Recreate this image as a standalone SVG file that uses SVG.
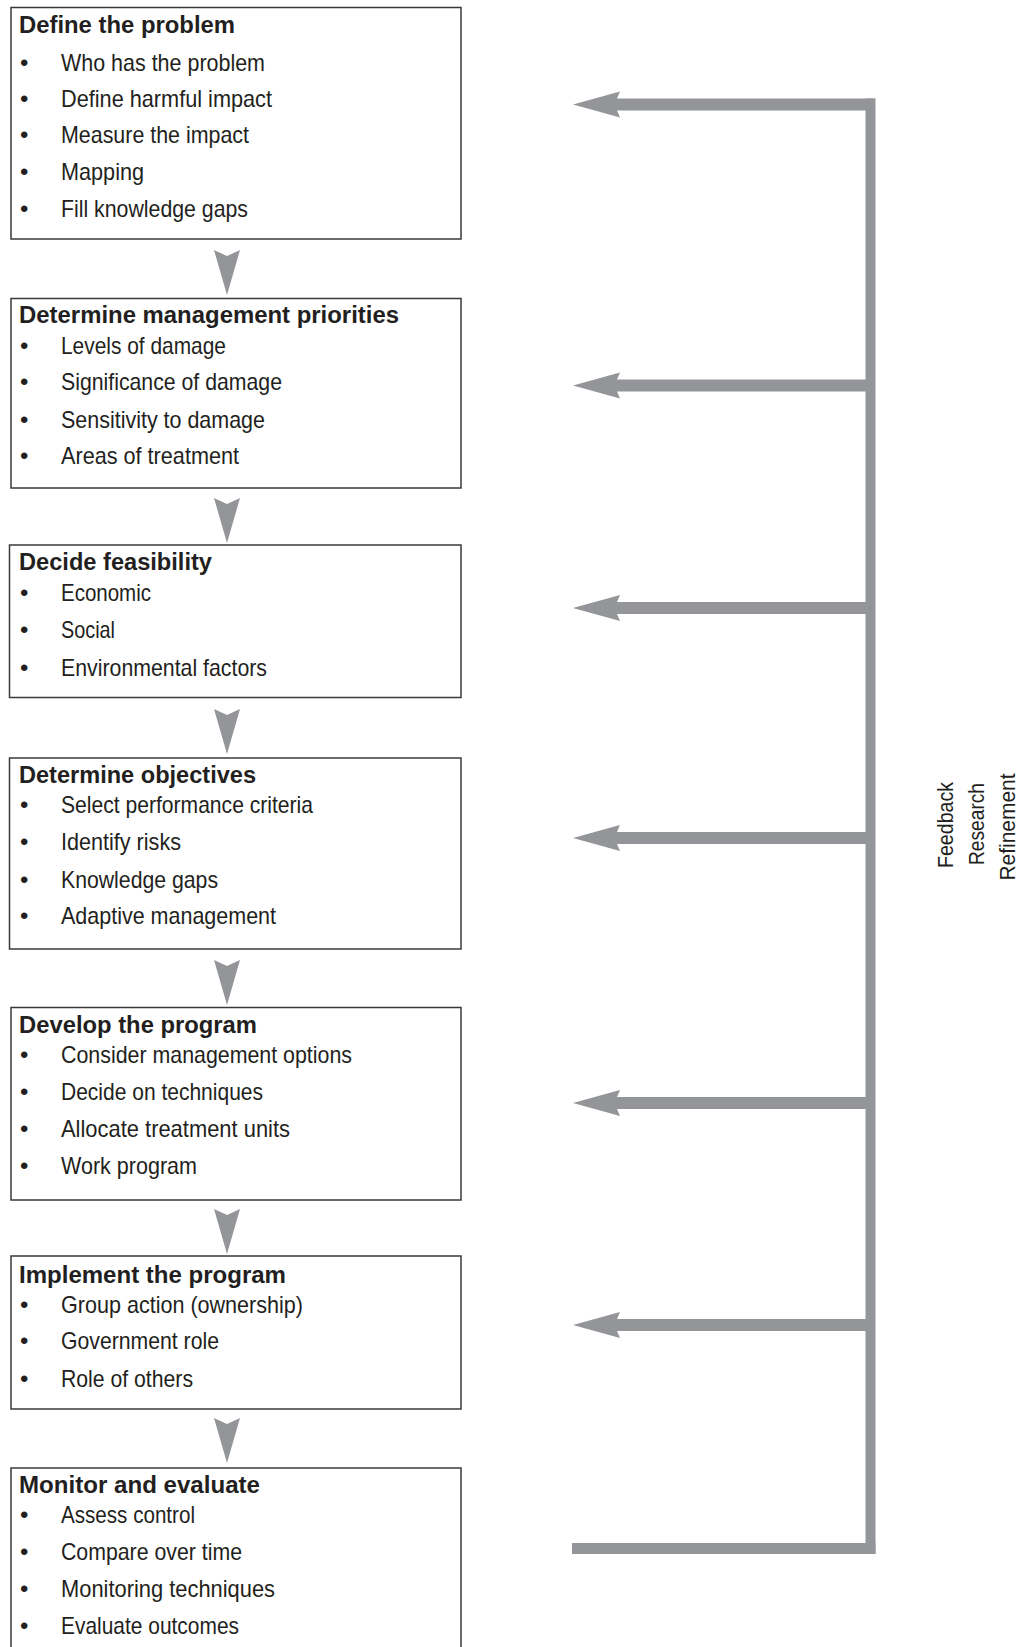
<svg xmlns="http://www.w3.org/2000/svg" xmlns:xlink="http://www.w3.org/1999/xlink" width="1019" height="1647" viewBox="0 0 1019 1647">
<style>
.box{fill:#ffffff;stroke:#3a3a3a;stroke-width:1.5}
.title{font-family:"Liberation Sans",Arial,sans-serif;font-weight:bold;font-size:23px;fill:#231f20}
.item{font-family:"Liberation Sans",Arial,sans-serif;font-size:24px;fill:#231f20}
.bul{font-family:"Liberation Sans",Arial,sans-serif;font-size:24px;fill:#231f20}
.side{font-family:"Liberation Sans",Arial,sans-serif;font-size:22px;fill:#231f20}
.grey{fill:#939598}
</style>
<defs>
<path id="down" d="M-13,0 L0,6 L13,0 L0,45 Z"/>
<path id="back" d="M573,0 L620,-13 L617,-6 L875,-6 L875,6 L617,6 L620,13 Z"/>
</defs>
<rect width="1019" height="1647" fill="#ffffff"/>

<g id="connectors" class="grey">
  <use xlink:href="#down" transform="translate(227,250)"/>
  <use xlink:href="#down" transform="translate(227,498)"/>
  <use xlink:href="#down" transform="translate(227,709)"/>
  <use xlink:href="#down" transform="translate(227,960)"/>
  <use xlink:href="#down" transform="translate(227,1209)"/>
  <use xlink:href="#down" transform="translate(227,1418)"/>
  <rect x="865.5" y="98.5" width="10" height="1455.5"/>
  <use xlink:href="#back" transform="translate(0,104.5)"/>
  <use xlink:href="#back" transform="translate(0,385.5)"/>
  <use xlink:href="#back" transform="translate(0,608)"/>
  <use xlink:href="#back" transform="translate(0,838)"/>
  <use xlink:href="#back" transform="translate(0,1103)"/>
  <use xlink:href="#back" transform="translate(0,1325)"/>
  <rect x="572" y="1543" width="303.5" height="11"/>
</g>

<g id="side-label">
  <text class="side" text-anchor="middle" transform="translate(953,825) rotate(-90)" textLength="86" lengthAdjust="spacingAndGlyphs">Feedback</text>
  <text class="side" text-anchor="middle" transform="translate(984,824) rotate(-90)" textLength="82" lengthAdjust="spacingAndGlyphs">Research</text>
  <text class="side" text-anchor="middle" transform="translate(1015,827) rotate(-90)" textLength="107" lengthAdjust="spacingAndGlyphs">Refinement</text>
</g>

<g id="node-define-problem">
  <rect class="box" x="11" y="7.5" width="450" height="231.5"/>
  <text class="title" x="19" y="33.3" textLength="216" lengthAdjust="spacingAndGlyphs">Define the problem</text>
  <text class="bul" x="20" y="70.7">•</text><text class="item" x="61" y="70.7" textLength="204" lengthAdjust="spacingAndGlyphs">Who has the problem</text>
  <text class="bul" x="20" y="106.7">•</text><text class="item" x="61" y="106.7" textLength="211" lengthAdjust="spacingAndGlyphs">Define harmful impact</text>
  <text class="bul" x="20" y="143.3">•</text><text class="item" x="61" y="143.3" textLength="188" lengthAdjust="spacingAndGlyphs">Measure the impact</text>
  <text class="bul" x="20" y="180">•</text><text class="item" x="61" y="180" textLength="83" lengthAdjust="spacingAndGlyphs">Mapping</text>
  <text class="bul" x="20" y="217.3">•</text><text class="item" x="61" y="217.3" textLength="187" lengthAdjust="spacingAndGlyphs">Fill knowledge gaps</text>
</g>

<g id="node-management-priorities">
  <rect class="box" x="11" y="298.5" width="450" height="189.5"/>
  <text class="title" x="19" y="323.3" textLength="380" lengthAdjust="spacingAndGlyphs">Determine management priorities</text>
  <text class="bul" x="20" y="354">•</text><text class="item" x="61" y="354" textLength="165" lengthAdjust="spacingAndGlyphs">Levels of damage</text>
  <text class="bul" x="20" y="390">•</text><text class="item" x="61" y="390" textLength="221" lengthAdjust="spacingAndGlyphs">Significance of damage</text>
  <text class="bul" x="20" y="427.7">•</text><text class="item" x="61" y="427.7" textLength="204" lengthAdjust="spacingAndGlyphs">Sensitivity to damage</text>
  <text class="bul" x="20" y="464.3">•</text><text class="item" x="61" y="464.3" textLength="178" lengthAdjust="spacingAndGlyphs">Areas of treatment</text>
</g>

<g id="node-feasibility">
  <rect class="box" x="9.5" y="545" width="451.5" height="152.5"/>
  <text class="title" x="19" y="570" textLength="193" lengthAdjust="spacingAndGlyphs">Decide feasibility</text>
  <text class="bul" x="20" y="600.7">•</text><text class="item" x="61" y="600.7" textLength="90" lengthAdjust="spacingAndGlyphs">Economic</text>
  <text class="bul" x="20" y="638.3">•</text><text class="item" x="61" y="638.3" textLength="54" lengthAdjust="spacingAndGlyphs">Social</text>
  <text class="bul" x="20" y="675.7">•</text><text class="item" x="61" y="675.7" textLength="206" lengthAdjust="spacingAndGlyphs">Environmental factors</text>
</g>

<g id="node-objectives">
  <rect class="box" x="9.5" y="758" width="451.5" height="191"/>
  <text class="title" x="19" y="783.3" textLength="237" lengthAdjust="spacingAndGlyphs">Determine objectives</text>
  <text class="bul" x="20" y="813.3">•</text><text class="item" x="61" y="813.3" textLength="252" lengthAdjust="spacingAndGlyphs">Select performance criteria</text>
  <text class="bul" x="20" y="850">•</text><text class="item" x="61" y="850" textLength="120" lengthAdjust="spacingAndGlyphs">Identify risks</text>
  <text class="bul" x="20" y="887.7">•</text><text class="item" x="61" y="887.7" textLength="157" lengthAdjust="spacingAndGlyphs">Knowledge gaps</text>
  <text class="bul" x="20" y="924.3">•</text><text class="item" x="61" y="924.3" textLength="215" lengthAdjust="spacingAndGlyphs">Adaptive management</text>
</g>

<g id="node-develop-program">
  <rect class="box" x="11" y="1007.5" width="450" height="192.5"/>
  <text class="title" x="19" y="1033.3" textLength="238" lengthAdjust="spacingAndGlyphs">Develop the program</text>
  <text class="bul" x="20" y="1063.3">•</text><text class="item" x="61" y="1063.3" textLength="291" lengthAdjust="spacingAndGlyphs">Consider management options</text>
  <text class="bul" x="20" y="1100">•</text><text class="item" x="61" y="1100" textLength="202" lengthAdjust="spacingAndGlyphs">Decide on techniques</text>
  <text class="bul" x="20" y="1137.3">•</text><text class="item" x="61" y="1137.3" textLength="229" lengthAdjust="spacingAndGlyphs">Allocate treatment units</text>
  <text class="bul" x="20" y="1174">•</text><text class="item" x="61" y="1174" textLength="136" lengthAdjust="spacingAndGlyphs">Work program</text>
</g>

<g id="node-implement-program">
  <rect class="box" x="11" y="1256" width="450" height="153"/>
  <text class="title" x="19" y="1283.3" textLength="267" lengthAdjust="spacingAndGlyphs">Implement the program</text>
  <text class="bul" x="20" y="1313.3">•</text><text class="item" x="61" y="1313.3" textLength="242" lengthAdjust="spacingAndGlyphs">Group action (ownership)</text>
  <text class="bul" x="20" y="1349.3">•</text><text class="item" x="61" y="1349.3" textLength="158" lengthAdjust="spacingAndGlyphs">Government role</text>
  <text class="bul" x="20" y="1386.7">•</text><text class="item" x="61" y="1386.7" textLength="132" lengthAdjust="spacingAndGlyphs">Role of others</text>
</g>

<g id="node-monitor-evaluate">
  <rect class="box" x="11" y="1468" width="450" height="200"/>
  <text class="title" x="19" y="1493.3" textLength="241" lengthAdjust="spacingAndGlyphs">Monitor and evaluate</text>
  <text class="bul" x="20" y="1523.3">•</text><text class="item" x="61" y="1523.3" textLength="134" lengthAdjust="spacingAndGlyphs">Assess control</text>
  <text class="bul" x="20" y="1560">•</text><text class="item" x="61" y="1560" textLength="181" lengthAdjust="spacingAndGlyphs">Compare over time</text>
  <text class="bul" x="20" y="1596.7">•</text><text class="item" x="61" y="1596.7" textLength="214" lengthAdjust="spacingAndGlyphs">Monitoring techniques</text>
  <text class="bul" x="20" y="1634">•</text><text class="item" x="61" y="1634" textLength="178" lengthAdjust="spacingAndGlyphs">Evaluate outcomes</text>
</g>
</svg>
